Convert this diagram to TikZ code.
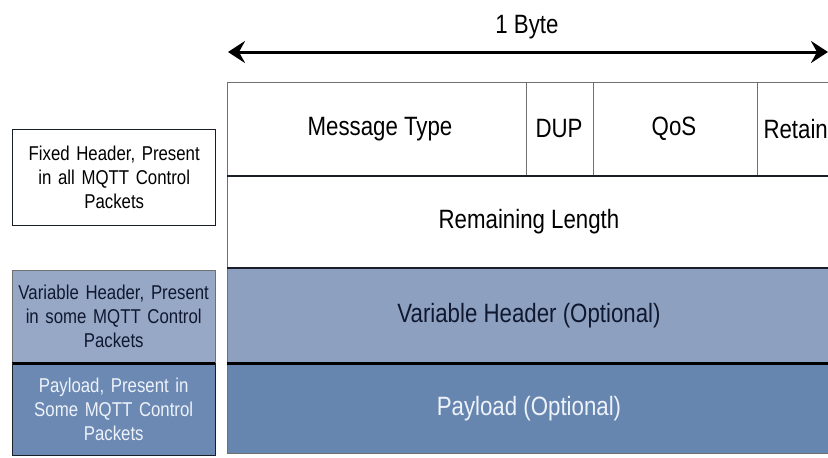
\documentclass[tikz,border=0pt]{standalone}
\usepackage{fontspec}
\setmainfont[FakeStretch=0.84]{Liberation Sans}
\usetikzlibrary{arrows.meta}
\definecolor{varfill}{HTML}{8EA0BF}
\definecolor{varleft}{HTML}{97A8C6}
\definecolor{payfill}{HTML}{6686B0}
\definecolor{payleft}{HTML}{6B89B3}
\definecolor{paytext}{HTML}{EEF2FA}
\definecolor{vartext}{HTML}{101830}
\definecolor{thin}{HTML}{707070}
\definecolor{darkline}{HTML}{1A1E28}
\tikzset{
  cell/.style={inner sep=0pt, anchor=north west},
  bigtxt/.style={font=\fontsize{26.5}{30}\selectfont},
  lefttxt/.style={font=\fontsize{20}{24}\selectfont, align=center, text width=203pt},
  thinline/.style={draw=thin, line width=0.9pt},
  midline/.style={draw=darkline, line width=1.8pt},
  heavyline/.style={draw=black, line width=3pt},
}
\begin{document}
\begin{tikzpicture}[x=1pt,y=-1pt]
\useasboundingbox[fill=white] (0,0) rectangle (828,458);
% header text and arrow
\node[bigtxt] (byte) at (527,27) {1 Byte};
\coordinate (al) at (228,52);
\coordinate (ar) at (828,52);
\draw[line width=3pt, {Stealth[length=17pt,width=22pt,inset=6pt]}-{Stealth[length=17pt,width=22pt,inset=6pt]}] (al) -- (ar);
% table cells
\node[cell, minimum width=299pt, minimum height=94pt] (mt) at (227,82) {};
\node[cell, minimum width=67pt, minimum height=94pt] (dup) at (526,82) {};
\node[cell, minimum width=164pt, minimum height=94pt] (qos) at (593,82) {};
\node[cell, minimum width=71pt, minimum height=94pt] (ret) at (757,82) {};
\node[cell, minimum width=601pt, minimum height=92pt] (rl) at (227,176) {};
\node[cell, minimum width=601pt, minimum height=95pt, fill=varfill] (vh) at (227,268) {};
\node[cell, minimum width=601pt, minimum height=90pt, fill=payfill] (pl) at (227,363) {};
% texts in table
\node[bigtxt] at (380,129) {Message Type};
\node[bigtxt] at (559,129) {DUP};
\node[bigtxt] at (674,129) {QoS};
\node[bigtxt, anchor=west] at (760,129) {Retain};
\node[bigtxt] at (529,222) {Remaining Length};
\node[bigtxt, text=vartext] at (529,316) {Variable Header (Optional)};
\node[bigtxt, text=paytext] at (529,409) {Payload (Optional)};
% table lines
\draw[thinline] (mt.north west) -- (ret.north east);
\draw[thinline] (mt.north west) -- (pl.south west);
\draw[thinline] (dup.north west) -- (dup.south west);
\draw[thinline] (qos.north west) -- (qos.south west);
\draw[thinline] (ret.north west) -- (ret.south west);
\draw[midline] (rl.north west) -- (rl.north east);
\draw[midline] (vh.north west) -- (vh.north east);
\draw[heavyline] (pl.north west) -- (pl.north east);
\draw[draw=thin, line width=1.2pt] (pl.south west) -- (pl.south east);
% left boxes
\node[cell, minimum width=203pt, minimum height=96pt, draw=darkline, line width=1.4pt] (fhb) at (12,129) {};
\node[lefttxt] at (fhb.center) {Fixed Header, Present\\in all MQTT Control\\Packets};
\node[cell, minimum width=203pt, minimum height=93pt, fill=varleft] (vhb) at (12,270) {};
\node[lefttxt, text=vartext] at (vhb.center) {Variable Header, Present\\in some MQTT Control\\Packets};
\node[cell, minimum width=203pt, minimum height=92pt, fill=payleft] (plb) at (12,363) {};
\node[lefttxt, text=paytext] at (plb.center) {Payload, Present in\\Some MQTT Control\\Packets};
\draw[draw=thin, line width=0.9pt] (vhb.south west) -- (vhb.north west) -- (vhb.north east) -- (vhb.south east);
\draw[heavyline] (vhb.south west) -- (vhb.south east);
\draw[draw=darkline, line width=1pt] (plb.north west) -- (plb.south west) -- (plb.south east) -- (plb.north east);
\end{tikzpicture}
\end{document}
